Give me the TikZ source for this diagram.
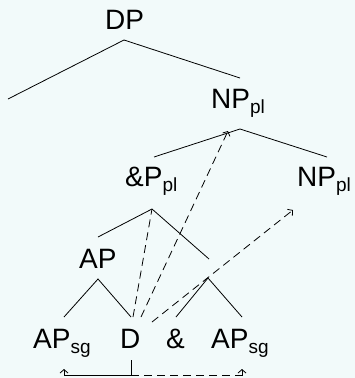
\documentclass[tikz,border=0pt]{standalone}
\usepackage{fontspec}
\setmainfont{Liberation Sans}
\usepackage{xcolor}
\usetikzlibrary{arrows.meta}
\definecolor{bgcol}{RGB}{242,250,250}
\newcommand{\feat}[1]{\raisebox{-5pt}{\fontsize{19}{22}\selectfont #1}}

\begin{document}
\begin{tikzpicture}[x=1pt,y=-1pt]
\tikzset{
  lab/.style={anchor=base west,inner sep=0pt,font=\fontsize{28}{32}\selectfont},
  br/.style={line width=0.8pt,draw=black},
  mv/.style={line width=0.8pt,draw=black,dash pattern=on 8pt off 5pt},
  tip/.style={-{Straight Barb[length=3.5pt,width=8pt]}}
}
\fill[bgcol] (0,0) rectangle (355,378);
\useasboundingbox (0,0) rectangle (355,378);
% labels
\node[lab] (dp) at (105,29) {DP};
\node[lab] (np) at (211,108) {NP\feat{pl}};
\node[lab] (cp) at (125,186) {\&P\feat{pl}};
\node[lab] (np2) at (297,186) {NP\feat{pl}};
\node[lab] (ap) at (79,268) {AP};
\node[lab] (apsg) at (33,348) {AP\feat{sg}};
\node[lab] (d) at (120,348) {D};
\node[lab] (cj) at (166,348) {\&};
\node[lab] (apsg2) at (211,348) {AP\feat{sg}};
% branch points
\coordinate (dp-a) at (124,40);  \coordinate (dp-l) at (8,99);    \coordinate (dp-r) at (240,78);
\coordinate (np-a) at (240,129); \coordinate (np-l) at (154,157); \coordinate (np-r) at (327,157);
\coordinate (cp-a) at (152,209); \coordinate (cp-l) at (98,237);  \coordinate (cp-r) at (209,259);
\coordinate (ap-a) at (98,279);  \coordinate (ap-l) at (64,317);  \coordinate (ap-r) at (131,317);
\coordinate (cj-a) at (208,278); \coordinate (cj-l) at (176,317); \coordinate (cj-r) at (242,317);
% tree
\draw[br] (dp-l) -- (dp-a) -- (dp-r);
\draw[br] (np-l) -- (np-a) -- (np-r);
\draw[br] (cp-l) -- (cp-a) -- (cp-r);
\draw[br] (ap-l) -- (ap-a) -- (ap-r);
\draw[br] (cj-l) -- (cj-a) -- (cj-r);
% movement of D
\coordinate (mv-1) at (133,317); \coordinate (mv-2) at (141,317); \coordinate (mv-3) at (152,322);
\coordinate (np-t) at (228,131); \coordinate (np2-t) at (293,210);
\draw[mv] (mv-1) -- (cp-a);
\draw[mv,tip] (mv-2) -- (np-t);
\draw[mv,tip] (mv-3) -- (np2-t);
% agreement below
\coordinate (d-t) at (131,360); \coordinate (d-b) at (131,375.5);
\coordinate (sg-t) at (64,369); \coordinate (sg2-t) at (242,369);
\coordinate (sg2-b) at (242,375.5);
\draw[br] (d-t) -- (d-b);
\draw[br,tip] (d-b) -| (sg-t);
\draw[mv] (d-b) -- (sg2-b);
\draw[br,tip] (sg2-b) -- (sg2-t);
\end{tikzpicture}
\end{document}
